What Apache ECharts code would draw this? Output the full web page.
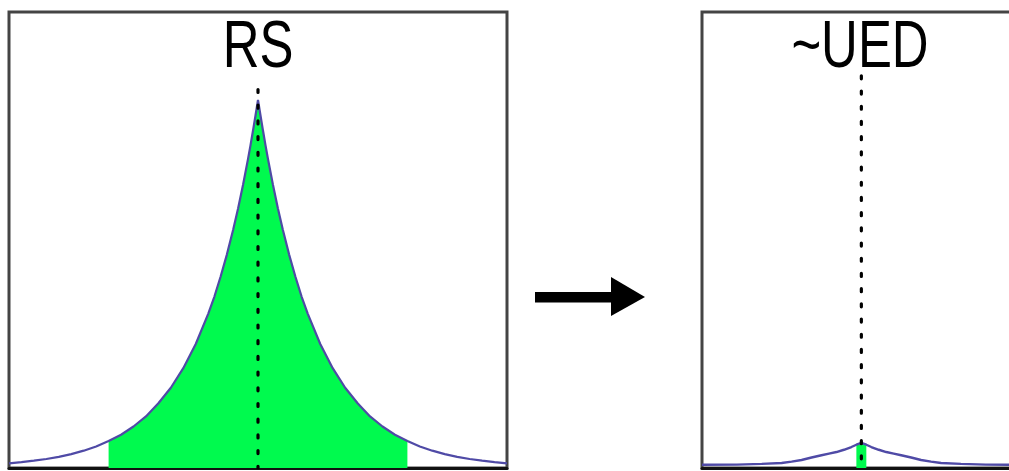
<!DOCTYPE html>
<html>
<head>
<meta charset="utf-8">
<script src="https://cdn.jsdelivr.net/npm/echarts@6/dist/echarts.min.js"></script>
<style>html,body{margin:0;padding:0;background:#fff;}#c{width:1009px;height:471px;}</style>
</head>
<body>
<div id="c"></div>
<script>
// Panel titles
const panelTitles = ['RS', '~UED'];

// Left panel (RS) distribution
const rsX = [-5, -4.75, -4.5, -4.25, -4, -3.75, -3.5, -3.25, -3, -2.75, -2.5, -2.25, -2, -1.75, -1.5, -1.25, -1,
             -0.875, -0.75, -0.625, -0.5, -0.4, -0.3, -0.2, -0.15, -0.1, -0.05, 0,
             0.05, 0.1, 0.15, 0.2, 0.3, 0.4, 0.5, 0.625, 0.75, 0.875,
             1, 1.25, 1.5, 1.75, 2, 2.25, 2.5, 2.75, 3, 3.25, 3.5, 3.75, 4, 4.25, 4.5, 4.75, 5];
const rsY = [1.0, 1.27, 1.6, 1.97, 2.45, 3.05, 3.8, 4.7, 5.9, 7.3, 9.1, 11.3, 14.2, 17.6, 21.9, 27.2, 33.8,
             37.6, 42.0, 46.8, 52.2, 56.9, 62.1, 67.8, 70.8, 74.0, 77.3, 80.7,
             77.3, 74.0, 70.8, 67.8, 62.1, 56.9, 52.2, 46.8, 42.0, 37.6,
             33.8, 27.2, 21.9, 17.6, 14.2, 11.3, 9.1, 7.3, 5.9, 4.7, 3.8, 3.05, 2.45, 1.97, 1.6, 1.27, 1.0];
// Shaded (green) range in the left panel
const rsShade = [-3, 3];

// Right panel (~UED) distribution
const uedX = [-3.2, -2.5, -2, -1.6, -1.4, -1.2, -1, -0.8, -0.65, -0.5, -0.35, -0.2, -0.1, 0,
              0.1, 0.2, 0.35, 0.5, 0.65, 0.8, 1, 1.2, 1.4, 1.6, 2, 2.5, 3.2];
const uedY = [0.7, 0.75, 0.9, 1.1, 1.4, 1.75, 2.3, 2.8, 3.15, 3.5, 4.0, 4.6, 5.1, 5.5,
              5.1, 4.6, 4.0, 3.5, 3.15, 2.8, 2.3, 1.75, 1.4, 1.1, 0.9, 0.75, 0.7];
const uedShade = [-0.1, 0.1];

// Dotted marker line heights (at x = 0)
const rsMarkTop = 83;
const uedMarkTop = 86;

function pairs(xs, ys, lo, hi) {
  const out = [];
  for (let i = 0; i < xs.length; i++) {
    if (lo === undefined || (xs[i] >= lo - 1e-9 && xs[i] <= hi + 1e-9)) out.push([xs[i], ys[i]]);
  }
  return out;
}

const chart = echarts.init(document.getElementById('c'), null, {renderer: 'canvas'});
const curveColor = '#4f4aa6';
const green = '#00fa4e';

function axisX(idx, min, max) {
  return {type: 'value', gridIndex: idx, min: min, max: max,
    axisLine: {show: true, onZero: false, lineStyle: {color: '#111', width: 3}},
    axisTick: {show: false}, axisLabel: {show: false}, splitLine: {show: false}};
}
function axisY(idx) {
  return {type: 'value', gridIndex: idx, min: 0, max: 100,
    axisLine: {show: false}, axisTick: {show: false}, axisLabel: {show: false}, splitLine: {show: false}};
}
function titleText(txt, cx) {
  return {type: 'text', x: cx, y: 48.5, scaleX: 0.76, scaleY: 1, z: 10,
    style: {text: txt, fontSize: 67, fontFamily: 'Liberation Sans, Arial, sans-serif', fill: '#000',
            align: 'center', verticalAlign: 'middle'}};
}

chart.setOption({
  animation: false,
  backgroundColor: '#fff',
  grid: [
    {left: 9, top: 12, width: 498, height: 456, outerBoundsMode: 'none', containLabel: false,
     show: true, borderColor: '#444', borderWidth: 3, backgroundColor: 'transparent'},
    {left: 702, top: 12, width: 318.7, height: 456, outerBoundsMode: 'none', containLabel: false,
     show: true, borderColor: '#444', borderWidth: 3, backgroundColor: 'transparent'}
  ],
  xAxis: [axisX(0, -5, 5), axisX(1, -3.2, 3.2)],
  yAxis: [axisY(0), axisY(1)],
  series: [
    {type: 'line', xAxisIndex: 0, yAxisIndex: 0, data: pairs(rsX, rsY, rsShade[0], rsShade[1]), symbol: 'none',
     lineStyle: {width: 0}, areaStyle: {color: green, opacity: 1}, z: 1},
    {type: 'line', xAxisIndex: 0, yAxisIndex: 0, data: pairs(rsX, rsY), symbol: 'none',
     lineStyle: {color: curveColor, width: 2.2}, z: 2},
    {type: 'line', xAxisIndex: 0, yAxisIndex: 0, data: [[0, rsMarkTop], [0, 0]], symbol: 'none',
     lineStyle: {color: '#000', width: 3.2, type: [3, 12.7], cap: 'round'}, z: 3},
    {type: 'line', xAxisIndex: 1, yAxisIndex: 1, data: pairs(uedX, uedY, uedShade[0], uedShade[1]), symbol: 'none',
     lineStyle: {width: 0}, areaStyle: {color: green, opacity: 1}, z: 1},
    {type: 'line', xAxisIndex: 1, yAxisIndex: 1, data: pairs(uedX, uedY), symbol: 'none',
     lineStyle: {color: curveColor, width: 2.4}, z: 2},
    {type: 'line', xAxisIndex: 1, yAxisIndex: 1, data: [[0, uedMarkTop], [0, 0]], symbol: 'none',
     lineStyle: {color: '#000', width: 3.2, type: [3, 12.2], cap: 'round'}, z: 3}
  ],
  graphic: [
    titleText(panelTitles[0], 258),
    titleText(panelTitles[1], 860),
    {type: 'rect', shape: {x: 535, y: 292, width: 80, height: 10.5}, style: {fill: '#000'}},
    {type: 'polygon', shape: {points: [[611, 277], [645, 297], [611, 316]]}, style: {fill: '#000'}}
  ]
});
</script>
</body>
</html>
